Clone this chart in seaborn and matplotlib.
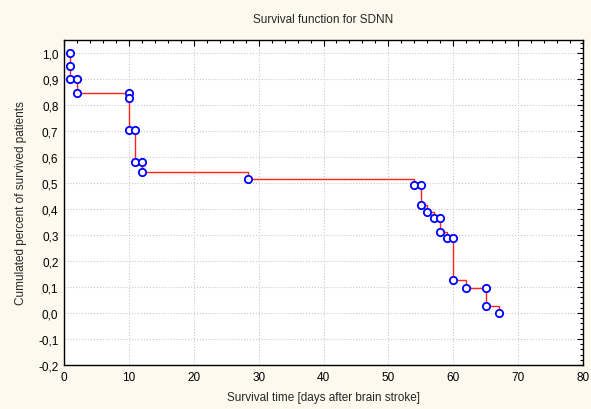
import numpy as np
import matplotlib
matplotlib.use("Agg")
import matplotlib.pyplot as plt
import seaborn as sns
from matplotlib.ticker import MultipleLocator, FuncFormatter

# Step line of the survival function (steps happen at these times)
step_times = [1, 1, 2, 10, 11, 12, 28.3, 54, 55, 56, 57, 58, 59, 60, 62, 65, 67]
step_levels = [1.0, 0.9, 0.848, 0.703, 0.58, 0.541, 0.515, 0.492, 0.415, 0.39,
               0.364, 0.313, 0.287, 0.128, 0.095, 0.026, 0.0]

# Observation markers
obs_time = [1, 1, 1, 2, 2, 10, 10, 10, 11, 11, 12, 12, 28.3, 54, 55, 55, 56,
            57, 58, 58, 59, 60, 60, 62, 65, 65, 67]
obs_surv = [1.0, 0.949, 0.9, 0.9, 0.848, 0.848, 0.828, 0.703, 0.703, 0.58, 0.58,
            0.541, 0.515, 0.492, 0.492, 0.415, 0.39, 0.364, 0.364, 0.313, 0.287,
            0.287, 0.128, 0.095, 0.095, 0.026, 0.0]

sns.set_style("white")
plt.rcParams['font.family'] = ['Liberation Sans', 'DejaVu Sans']

bg = '#fef9ee'
fig = plt.figure(figsize=(5.91, 4.10), dpi=100, facecolor=bg)
ax = fig.add_axes([64 / 591, 1 - 366 / 410, (583 - 64) / 591, (366 - 41) / 410])
ax.set_facecolor('white')

ax.step(step_times, step_levels, where='post', color='#ff2020', lw=1.0, zorder=2)
sns.scatterplot(x=obs_time, y=obs_surv, ax=ax, marker='o', s=28,
                facecolor='white', edgecolor='#0000ff', linewidth=1.3, zorder=3)

ax.set_xlim(0, 80)
ax.set_ylim(-0.2, 1.05)
ax.xaxis.set_major_locator(MultipleLocator(10))
ax.xaxis.set_minor_locator(MultipleLocator(2))
ax.yaxis.set_major_locator(MultipleLocator(0.1))
ax.yaxis.set_minor_locator(MultipleLocator(0.02))
ax.yaxis.set_major_formatter(FuncFormatter(lambda v, p: f"{v:.1f}".replace('.', ',').replace('-0,0', '0,0')))
ax.xaxis.set_major_formatter(FuncFormatter(lambda v, p: f"{v:.0f}"))

ax.tick_params(which='both', direction='in', top=True, right=True, colors='black',
               labelsize=8.5, pad=4)
ax.tick_params(which='major', length=4, width=0.8)
ax.tick_params(which='minor', length=2, width=0.8)
ax.grid(True, which='major', color='#c8c8c8', linestyle=':', linewidth=0.8)
for s in ax.spines.values():
    s.set_color('black')
    s.set_linewidth(1.0)

ax.set_title('Survival function for SDNN', fontsize=8.5, pad=13)
ax.set_xlabel('Survival time [days after brain stroke]', fontsize=8.5, labelpad=6)
ax.set_ylabel('Cumulated percent of survived patients', fontsize=8.5, labelpad=8)

fig.savefig('out.png', dpi=100, facecolor=bg)
